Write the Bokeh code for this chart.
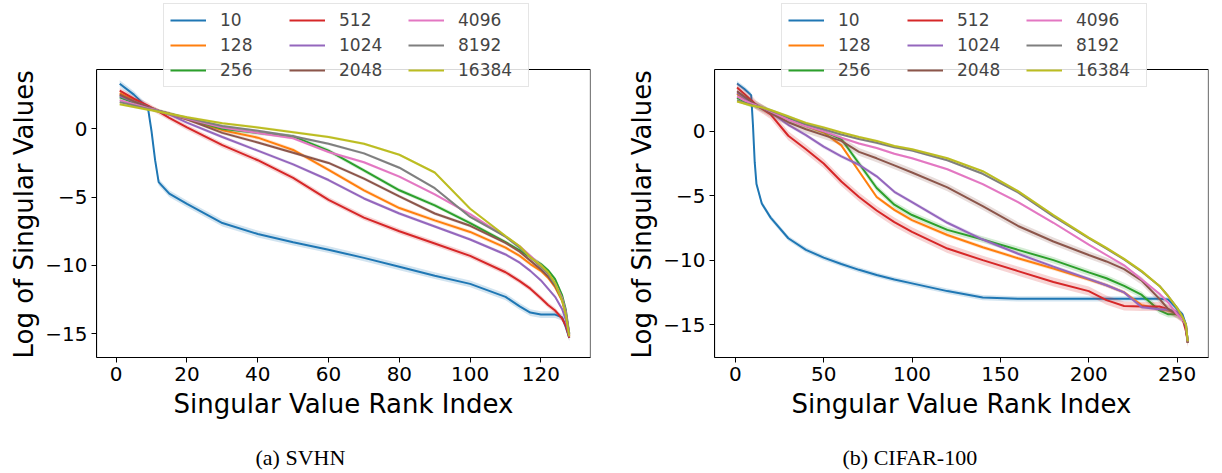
import numpy as np
from bokeh.plotting import figure
from bokeh.models import Legend, LegendItem, FixedTicker, Range1d, BoxAnnotation, Title
from bokeh.layouts import row
from bokeh.embed import file_html
from bokeh.resources import INLINE

series_labels = ["10", "128", "256", "512", "1024", "2048", "4096", "8192", "16384"]
series_colors = ["#1f77b4", "#ff7f0e", "#2ca02c", "#d62728", "#9467bd",
                 "#8c564b", "#e377c2", "#7f7f7f", "#bcbd22"]

# ---------------- (a) SVHN ----------------
svhn_rank = [1, 5, 9, 10, 11, 12, 15, 20, 30, 40, 50, 60, 70, 80, 90, 100, 110,
             114, 117, 120, 122, 124, 126, 127, 128]
svhn_10 = [3.3, 2.5, 1.5, -0.2, -2.3, -3.9, -4.75, -5.5, -6.9, -7.7, -8.3, -8.85, -9.45,
           -10.1, -10.75, -11.35, -12.3, -13.0, -13.45, -13.6, -13.6, -13.6, -13.8, -14.5, -15.3]
svhn_128 = [2.6, 2.1, 1.6, 1.5, 1.4, 1.3, 1.1, 0.7, -0.1, -0.65, -1.55, -3.0, -4.5,
            -5.8, -6.7, -7.55, -8.7, -9.3, -9.9, -10.4, -10.9, -11.6, -12.6, -13.6, -15.2]
svhn_256 = [2.3, 1.9, 1.55, 1.45, 1.4, 1.3, 1.1, 0.75, 0.0, -0.3, -0.55, -1.6, -3.05,
            -4.5, -5.6, -6.9, -8.3, -8.9, -9.4, -9.9, -10.35, -11.0, -12.2, -13.2, -15.0]
svhn_512 = [2.8, 2.2, 1.7, 1.55, 1.4, 1.25, 0.8, 0.1, -1.2, -2.3, -3.6, -5.2, -6.5,
            -7.5, -8.4, -9.3, -10.5, -11.15, -11.7, -12.4, -12.9, -13.3, -13.9, -14.4, -15.3]
svhn_1024 = [2.4, 2.0, 1.6, 1.5, 1.4, 1.3, 1.05, 0.45, -0.6, -1.6, -2.6, -3.75, -5.1,
             -6.2, -7.15, -8.1, -9.2, -9.8, -10.4, -11.1, -11.7, -12.3, -13.2, -14.0, -15.2]
svhn_2048 = [2.5, 2.0, 1.6, 1.5, 1.4, 1.3, 1.1, 0.7, -0.3, -1.0, -1.75, -2.5, -3.65,
             -4.95, -6.2, -7.1, -8.35, -9.0, -9.65, -10.3, -10.8, -11.5, -12.5, -13.4, -15.1]
svhn_4096 = [2.1, 1.8, 1.5, 1.45, 1.4, 1.3, 1.1, 0.75, 0.1, -0.3, -0.7, -1.7, -2.45,
             -3.5, -4.8, -6.25, -7.9, -8.6, -9.3, -10.0, -10.6, -11.3, -12.4, -13.4, -15.0]
svhn_8192 = [1.95, 1.7, 1.45, 1.4, 1.35, 1.3, 1.1, 0.8, 0.2, -0.15, -0.55, -1.1, -1.8,
             -2.85, -4.35, -6.45, -7.9, -8.7, -9.4, -10.1, -10.6, -11.4, -12.5, -13.5, -15.0]
svhn_16384 = [1.8, 1.6, 1.4, 1.35, 1.3, 1.25, 1.1, 0.85, 0.4, 0.1, -0.25, -0.6, -1.1,
              -1.9, -3.2, -5.85, -7.85, -8.6, -9.4, -10.0, -10.5, -11.3, -12.6, -13.6, -15.2]
svhn_std = [0.25, 0.15, 0.15, 0.2, 0.12, 0.12, 0.1, 0.1, 0.1]

# ---------------- (b) CIFAR-100 ----------------
c100_rank = [1, 5, 9, 10, 11, 12, 15, 20, 30, 40, 50, 60, 70, 80, 90, 100, 120, 140,
             160, 180, 200, 210, 220, 230, 240, 245, 250, 253, 255, 256]
c100_10 = [3.7, 3.3, 2.8, 0.5, -2.4, -4.1, -5.6, -6.7, -8.3, -9.2, -9.8, -10.3, -10.75,
           -11.15, -11.5, -11.8, -12.4, -12.9, -13.0, -13.0, -13.0, -13.0, -13.0, -13.0,
           -13.0, -13.05, -13.8, -14.2, -15.0, -16.3]
c100_128 = [2.9, 2.5, 2.2, 2.1, 2.05, 2.0, 1.8, 1.45, 0.95, 0.4, -0.1, -1.1, -3.1,
            -5.1, -6.1, -6.9, -8.05, -9.0, -9.85, -10.65, -11.5, -11.95, -12.5, -13.5,
            -13.8, -13.9, -14.1, -14.5, -15.2, -16.4]
c100_256 = [2.6, 2.3, 2.1, 2.05, 2.0, 1.95, 1.8, 1.5, 1.0, 0.45, 0.0, -0.6, -2.5,
            -4.4, -5.7, -6.5, -7.65, -8.4, -9.2, -10.0, -10.95, -11.4, -12.0, -12.7,
            -13.9, -14.2, -14.2, -14.5, -15.2, -16.4]
c100_512 = [3.4, 2.9, 2.4, 2.3, 2.15, 2.0, 1.75, 1.3, -0.35, -1.4, -2.5, -3.9, -5.1,
            -6.15, -7.05, -7.8, -9.1, -10.0, -10.85, -11.7, -12.4, -13.1, -13.55, -13.6,
            -13.6, -13.8, -14.2, -14.5, -15.5, -16.4]
c100_1024 = [3.0, 2.6, 2.2, 2.1, 2.05, 2.0, 1.8, 1.45, 0.5, -0.3, -1.2, -1.95, -2.6,
             -3.5, -4.7, -5.5, -7.1, -8.4, -9.5, -10.5, -11.45, -11.95, -12.5, -13.65,
             -13.8, -13.85, -14.0, -14.5, -15.2, -16.4]
c100_2048 = [3.1, 2.7, 2.3, 2.2, 2.1, 2.05, 1.8, 1.4, 0.7, 0.15, -0.3, -0.75, -1.6,
             -2.1, -2.65, -3.2, -4.35, -5.8, -7.35, -8.55, -9.6, -10.1, -10.7, -11.6,
             -13.0, -13.8, -14.2, -14.5, -15.2, -16.4]
c100_4096 = [2.7, 2.4, 2.15, 2.1, 2.05, 2.0, 1.85, 1.55, 0.9, 0.4, 0.0, -0.5, -0.95,
             -1.3, -1.75, -2.1, -2.95, -4.1, -5.5, -7.1, -8.8, -9.6, -10.4, -11.5,
             -12.6, -13.3, -14.2, -14.6, -15.0, -16.3]
c100_8192 = [2.4, 2.2, 2.05, 2.0, 1.97, 1.95, 1.85, 1.6, 1.1, 0.55, 0.15, -0.25, -0.6,
             -0.9, -1.25, -1.5, -2.25, -3.3, -4.75, -6.6, -8.3, -9.1, -9.95, -10.9,
             -12.0, -12.8, -13.7, -14.4, -15.0, -16.3]
c100_16384 = [2.3, 2.15, 2.0, 1.98, 1.95, 1.92, 1.85, 1.65, 1.15, 0.65, 0.3, -0.1, -0.45,
              -0.75, -1.15, -1.4, -2.1, -3.1, -4.65, -6.5, -8.25, -9.05, -9.9, -10.85,
              -12.0, -12.8, -13.7, -14.4, -15.0, -16.3]
c100_std = [0.2, 0.15, 0.25, 0.35, 0.15, 0.3, 0.1, 0.1, 0.1]

x_label = "Singular Value Rank Index"
y_label = "Log of Singular Values"
y_ticks = [0, -5, -10, -15]
svhn_xticks = [0, 20, 40, 60, 80, 100, 120]
c100_xticks = [0, 50, 100, 150, 200, 250]
captions = ["(a) SVHN", "(b) CIFAR-100"]

FONT = "DejaVu Sans"


def panel(rank, series, stds, xr, yr, y_view_top, xticks, bl, br, caption, cap_offset):
    # the plotting frame reaches up to the window top so the legend (which
    # overlaps the axes box, as in the original) is not clipped; the visible
    # axes box is drawn as a box annotation over the real data limits.
    p = figure(width=611, height=473, output_backend="svg", toolbar_location=None,
               x_range=Range1d(*xr), y_range=Range1d(yr[0], y_view_top),
               min_border_left=bl, min_border_right=br, min_border_top=0,
               min_border_bottom=116)
    p.grid.visible = False
    p.outline_line_color = None
    p.background_fill_color = "white"
    p.border_fill_color = "white"
    x = np.array(rank, dtype=float)
    items = []
    for lab, col, vals, s in zip(series_labels, series_colors, series, stds):
        v = np.array(vals, dtype=float)
        p.varea(x=x, y1=v - s, y2=v + s, fill_color=col, fill_alpha=0.2)
        r = p.line(x, v, line_color=col, line_width=2)
        items.append(LegendItem(label=lab, renderers=[r]))
    p.add_layout(BoxAnnotation(left=xr[0], right=xr[1], bottom=yr[0], top=yr[1],
                               fill_alpha=0, line_color="black", line_width=1.2,
                               line_alpha=1))
    for ax in (p.xaxis[0], p.yaxis[0]):
        ax.axis_line_color = "black"
        ax.major_tick_line_color = "black"
        ax.major_tick_out = 5
        ax.major_tick_in = 0
        ax.minor_tick_line_color = None
        ax.major_label_text_font = FONT
        ax.major_label_text_font_size = "20px"
        ax.major_label_text_color = "black"
        ax.axis_label_text_font = FONT
        ax.axis_label_text_font_size = "26px"
        ax.axis_label_text_font_style = "normal"
        ax.axis_label_text_color = "black"
        ax.major_label_standoff = 4
    p.yaxis.bounds = (yr[0], yr[1])
    p.xaxis.ticker = FixedTicker(ticks=xticks)
    p.yaxis.ticker = FixedTicker(ticks=y_ticks)
    p.yaxis.major_label_overrides = {t: ("\u2212" + str(-t) if t < 0 else str(t)) for t in y_ticks}
    p.xaxis.axis_label = x_label
    p.xaxis.axis_label_standoff = 5

    # y label as a side title so it can be centred on the visible axes box
    p.add_layout(Title(text=y_label, align="left", offset=-1, text_font=FONT,
                       text_font_size="26px", text_font_style="normal",
                       text_color="black", standoff=8), "left")

    leg = Legend(items=items, ncols=3, location=(67, 270),
                 glyph_width=36, glyph_height=20, label_standoff=14,
                 label_width=64, label_height=20, spacing=5, padding=6, margin=0,
                 label_text_font=FONT, label_text_font_size="17px",
                 background_fill_color="white", background_fill_alpha=0.85,
                 border_line_color="#cccccc", border_line_width=1)
    p.add_layout(leg, "center")

    # spacer, then sub-figure caption
    p.add_layout(Title(text=" ", text_font_size="1px", standoff=18), "below")
    p.add_layout(Title(text=caption, align="left", offset=cap_offset,
                       text_font="Liberation Serif",
                       text_font_size="22px", text_font_style="normal",
                       text_color="black", standoff=0), "below")
    return p


p1 = panel(svhn_rank,
           [svhn_10, svhn_128, svhn_256, svhn_512, svhn_1024, svhn_2048, svhn_4096,
            svhn_8192, svhn_16384],
           svhn_std, (-5.56, 134.0), (-16.74, 4.34), 9.39, svhn_xticks, 96, 21,
           captions[0], 159)
p2 = panel(c100_rank,
           [c100_10, c100_128, c100_256, c100_512, c100_1024, c100_2048, c100_4096,
            c100_8192, c100_16384],
           c100_std, (-11.75, 267.75), (-17.55, 4.79), 10.14, c100_xticks, 103, 14,
           captions[1], 128)

layout = row(p1, p2)
open("out.html", "w").write(file_html(layout, INLINE))
